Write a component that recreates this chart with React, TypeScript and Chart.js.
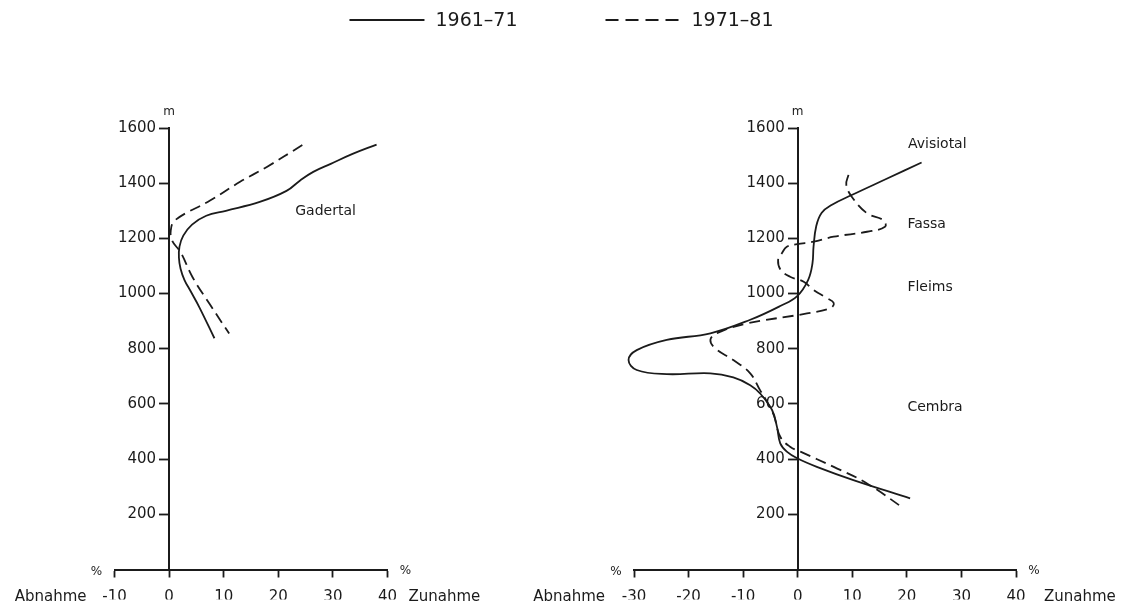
import React, { useEffect, useRef } from 'react';
import { Chart, registerables } from 'chart.js';

Chart.register(...registerables);

// ---------- data ----------
const SERIES_LABELS = ['1961–71', '1971–81'];

// Gadertal (left panel)
const gaderPct61 = [38, 33.6, 29.6, 26.4, 24, 21.5, 16.6, 10.4, 6.8, 4.2, 2.6, 1.9, 1.8, 2.1, 2.8, 3.9, 5.5, 8.3];
const gaderAlt61 = [1540, 1506, 1470, 1441, 1410, 1372, 1332, 1300, 1282, 1250, 1210, 1170, 1130, 1090, 1050, 1010, 952, 838];
const gaderPct71 = [24.4, 17.9, 13, 7.5, 1.1, 0.3, 0.6, 2.1, 4.3, 7.4, 11];
const gaderAlt71 = [1538, 1459, 1405, 1337, 1266, 1228, 1190, 1150, 1059, 963, 855];

// Avisiotal / Fassa / Fleims / Cembra (right panel)
const avisioPct61 = [22.7, 16.3, 9.9, 6.2, 4.4, 3.4, 2.9, 2.7, 1.9, -0.1, -3.2, -8.7, -16, -24, -29.5, -31, -29.5, -24, -16, -11.8, -8.7, -6.9, -4.7, -3.8, -3.2, -2, -0.1, 3.5, 10.2, 20.6];
const avisioAlt61 = [1475, 1416, 1357, 1321, 1293, 1245, 1170, 1109, 1049, 991, 955, 905, 856, 832, 795, 759, 723, 708, 711, 696, 668, 638, 578, 517, 457, 427, 403, 372, 324, 258];
const avisioPct71 = [9.3, 8.9, 9.9, 12.7, 15.7, 16, 12.7, 6.6, 2.9, -0.1, -2, -2.9, -3.6, -3.1, -1.4, 1.1, 2.9, 5.3, 6.6, 6, 1.7, -9.9, -14.8, -16, -15.1, -11.8, -8.7, -6.9, -5.8, -4.4, -3.2, -1.4, 0.5, 6.6, 12.7, 19.4];
const avisioAlt71 = [1430, 1395, 1351, 1291, 1266, 1242, 1224, 1206, 1188, 1179, 1170, 1146, 1121, 1085, 1061, 1043, 1013, 984, 966, 947, 928, 889, 856, 832, 801, 759, 711, 650, 614, 560, 481, 445, 427, 372, 312, 222];

const leftXTicks = [-10, 0, 10, 20, 30, 40];
const rightXTicks = [-30, -20, -10, 0, 10, 20, 30, 40];
const altTicks = [200, 400, 600, 800, 1000, 1200, 1400, 1600];

const leftRegions = ['Gadertal'];
const rightRegions = ['Avisiotal', 'Fassa', 'Fleims', 'Cembra'];

// ---------- styling ----------
const FONT = '"DejaVu Sans", sans-serif';
const INK = '#1b1b1b';

// label anchor positions (in data units), kept apart from the data
const leftRegionPos = [{ x: 23.1, y: 1299 }];
const rightRegionPos = [
  { x: 20.2, y: 1542 },
  { x: 20.1, y: 1252 },
  { x: 20.1, y: 1024 },
  { x: 20.1, y: 589 },
];

const pts = (xs: number[], ys: number[]) => xs.map((x, i) => ({ x, y: ys[i] }));

const textPlugin = {
  id: 'extraText',
  afterDraw(chart: any, _args: any, o: any) {
    const { ctx, chartArea, scales } = chart;
    const axisX = scales.x.getPixelForValue(0);
    ctx.save();
    ctx.fillStyle = INK;
    ctx.textBaseline = 'middle';
    // altitude tick labels
    ctx.font = `15px ${FONT}`;
    ctx.textAlign = 'right';
    scales.y.ticks.forEach((t: any) => {
      ctx.fillText(String(t.value), axisX - 13, scales.y.getPixelForValue(t.value));
    });
    ctx.font = `12px ${FONT}`;
    ctx.textAlign = 'center';
    ctx.fillText('m', axisX, chartArea.top - 16);
    ctx.fillText('%', chartArea.left - 18, chartArea.bottom + 2);
    ctx.fillText('%', chartArea.right + 18, chartArea.bottom + 1);
    ctx.font = `15px ${FONT}`;
    ctx.textAlign = 'right';
    ctx.fillText('Abnahme', chartArea.left - o.abGap, chartArea.bottom + 28);
    ctx.textAlign = 'left';
    ctx.fillText('Zunahme', chartArea.right + o.zuGap, chartArea.bottom + 28);
    ctx.font = `14px ${FONT}`;
    (o.names || []).forEach((name: string, i: number) => {
      const p = o.pos[i];
      ctx.fillText(name, scales.x.getPixelForValue(p.x), scales.y.getPixelForValue(p.y));
    });
    ctx.restore();
  },
};

const legendPlugin = {
  id: 'topLegend',
  afterDraw(chart: any, _args: any, o: any) {
    if (!o || !o.show) return;
    const { ctx } = chart;
    ctx.save();
    ctx.font = `19px ${FONT}`;
    const items = chart.data.datasets.map((ds: any) => ({
      label: ds.label,
      dash: ds.borderDash && ds.borderDash.length ? [13, 7] : [],
      w: ctx.measureText(ds.label).width,
    }));
    const lineW = 75;
    const gapText = 11;
    const gapItem = 88;
    const total =
      items.reduce((s: number, it: any) => s + lineW + gapText + it.w, 0) + gapItem * (items.length - 1);
    let x = chart.width / 2 - total / 2;
    const y = 20;
    for (const it of items) {
      ctx.setLineDash(it.dash);
      ctx.strokeStyle = INK;
      ctx.lineWidth = 1.8;
      ctx.beginPath();
      ctx.moveTo(x, y);
      ctx.lineTo(x + lineW, y);
      ctx.stroke();
      ctx.setLineDash([]);
      ctx.fillStyle = INK;
      ctx.textBaseline = 'middle';
      ctx.textAlign = 'left';
      ctx.fillText(it.label, x + lineW + gapText, y + 1);
      x += lineW + gapText + it.w + gapItem;
    }
    ctx.restore();
  },
};

function buildConfig(p: {
  xMin: number;
  xMax: number;
  xTicks: number[];
  solid: { x: number; y: number }[];
  dashed: { x: number; y: number }[];
  padding: { left: number; right: number; top: number; bottom: number };
  names: string[];
  pos: { x: number; y: number }[];
  abGap: number;
  zuGap: number;
  legend: boolean;
}): any {
  const lineDs = (label: string, data: any[], dash: number[]) => ({
    label,
    data,
    borderColor: INK,
    backgroundColor: INK,
    borderWidth: 1.8,
    borderDash: dash,
    pointRadius: 0,
    pointHoverRadius: 0,
    tension: 0.4,
    fill: false,
    clip: false,
  });
  return {
    type: 'line',
    data: {
      datasets: [lineDs(SERIES_LABELS[0], p.solid, []), lineDs(SERIES_LABELS[1], p.dashed, [11, 6])],
    },
    options: {
      animation: false,
      responsive: false,
      events: [],
      layout: { padding: p.padding },
      plugins: {
        legend: { display: false },
        tooltip: { enabled: false },
        extraText: { names: p.names, pos: p.pos, abGap: p.abGap, zuGap: p.zuGap },
        topLegend: { show: p.legend },
      },
      scales: {
        x: {
          type: 'linear',
          min: p.xMin,
          max: p.xMax,
          position: 'bottom',
          afterBuildTicks: (s: any) => {
            s.ticks = p.xTicks.map((v) => ({ value: v }));
          },
          afterFit: (s: any) => {
            s.height = 30;
          },
          ticks: {
            font: { family: FONT, size: 15 },
            color: INK,
            padding: 11,
            maxRotation: 0,
            autoSkip: false,
            callback: (v: any) => String(v),
          },
          grid: {
            drawOnChartArea: false,
            drawTicks: true,
            tickLength: 8,
            tickColor: INK,
            tickWidth: 1.8,
          },
          border: { display: true, color: INK, width: 2 },
        },
        y: {
          type: 'linear',
          min: 0,
          max: 1600,
          position: { x: 0 },
          afterBuildTicks: (s: any) => {
            s.ticks = altTicks.map((v) => ({ value: v }));
          },
          ticks: {
            display: false,
            autoSkip: false,
          },
          grid: {
            drawOnChartArea: false,
            drawTicks: true,
            tickLength: 9,
            tickColor: INK,
            tickWidth: 1.8,
          },
          border: { display: true, color: INK, width: 2 },
        },
      },
    },
    plugins: [textPlugin, legendPlugin],
  };
}

export default function App() {
  const leftRef = useRef<HTMLCanvasElement>(null);
  const rightRef = useRef<HTMLCanvasElement>(null);

  useEffect(() => {
    const c1 = new Chart(
      leftRef.current as HTMLCanvasElement,
      buildConfig({
        xMin: leftXTicks[0],
        xMax: leftXTicks[leftXTicks.length - 1],
        xTicks: leftXTicks,
        solid: pts(gaderPct61, gaderAlt61),
        dashed: pts(gaderPct71, gaderAlt71),
        padding: { left: 114.5, right: 735.5, top: 128, bottom: 7.5 },
        names: leftRegions,
        pos: leftRegionPos,
        abGap: 28,
        zuGap: 21,
        legend: true,
      })
    );
    const c2 = new Chart(
      rightRef.current as HTMLCanvasElement,
      buildConfig({
        xMin: rightXTicks[0],
        xMax: rightXTicks[rightXTicks.length - 1],
        xTicks: rightXTicks,
        solid: pts(avisioPct61, avisioAlt61),
        dashed: pts(avisioPct71, avisioAlt71),
        padding: { left: 634, right: 107, top: 128, bottom: 7.5 },
        names: rightRegions,
        pos: rightRegionPos,
        abGap: 29,
        zuGap: 28,
        legend: false,
      })
    );
    return () => {
      c1.destroy();
      c2.destroy();
    };
  }, []);

  return (
    <div style={{ position: 'fixed', left: 0, top: 0, width: 1123, height: 607, background: '#fff' }}>
      <canvas ref={leftRef} width={1123} height={607} style={{ position: 'absolute', left: 0, top: 0 }} />
      <canvas ref={rightRef} width={1123} height={607} style={{ position: 'absolute', left: 0, top: 0 }} />
    </div>
  );
}
